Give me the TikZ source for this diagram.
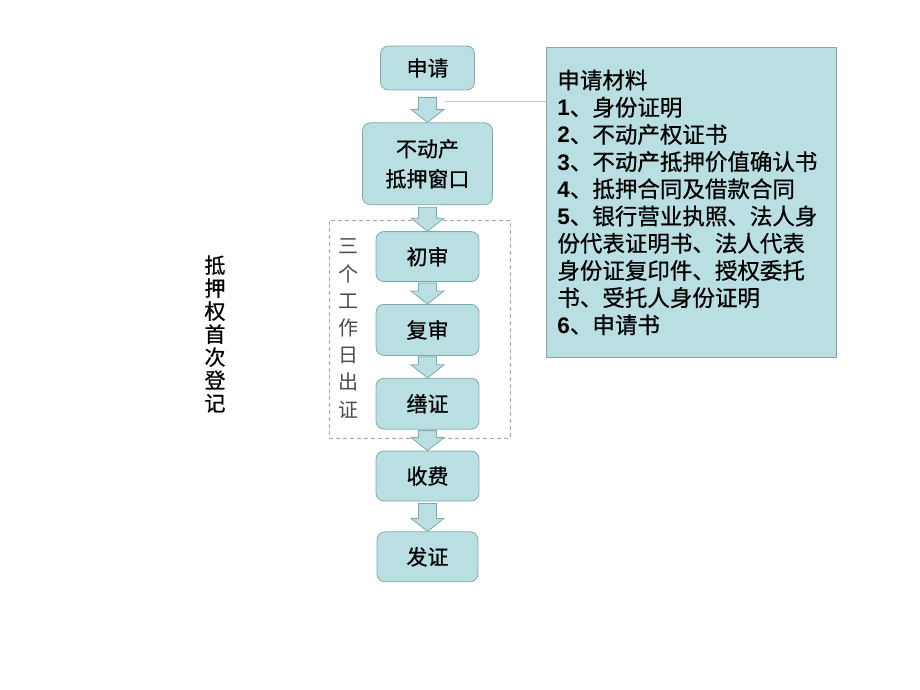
\documentclass[tikz,border=0pt]{standalone}
\usepackage{fontspec}
\usetikzlibrary{positioning,calc}
\newfontfamily\cjk{Noto Sans CJK SC}
\newfontfamily\cjkb[FakeBold=0.7]{Noto Sans CJK SC}
\newfontfamily\numfont{Liberation Sans}
\definecolor{boxfill}{HTML}{B9DFE2}
\definecolor{boxline}{HTML}{7FA9AD}
\definecolor{noteline}{HTML}{8FA3A5}
\definecolor{dayline}{HTML}{A6A6A6}
\definecolor{callline}{HTML}{9ED4D9}
\newcommand{\itemno}[1]{{\numfont\bfseries #1}}
\newcommand{\flowarrow}[3][2pt]{%
  \path[arrowbox] let \p1=($(#2.south)+(0pt,-#1)$), \p2=(#3.north) in
    (\x1-9pt,\y1) -- (\x1+9pt,\y1) -- (\x1+9pt,\y2+13pt) -- (\x1+16.5pt,\y2+13pt)
    -- (\x1,\y2) -- (\x1-16.5pt,\y2+13pt) -- (\x1-9pt,\y2+13pt) -- cycle;
}

\begin{document}
\begin{tikzpicture}[
      x=1pt,y=-1pt,
      every node/.style={inner sep=2pt,font=\cjkb\fontsize{21pt}{30pt}\selectfont},
      stepbox/.style={draw=boxline,fill=boxfill,rounded corners=8pt,line width=0.8pt,
        minimum width=103pt,minimum height=50pt,align=center},
      arrowbox/.style={draw=boxline,fill=boxfill,line width=0.8pt},
      notebox/.style={draw=noteline,fill=boxfill,line width=0.8pt,align=left,
        inner xsep=11pt,font=\cjkb\fontsize{22.5pt}{27.2pt}\selectfont},
      daybox/.style={draw=dayline,dashed,dash pattern=on 4pt off 3pt,line width=0.8pt},
      sidetext/.style={align=center,text width=24pt}
    ]
      \useasboundingbox (0,0) rectangle (920,690);
      \node[daybox,minimum width=181pt,minimum height=218pt] (days) at (419.5,329) {};
      \node[stepbox,minimum width=94pt,minimum height=44pt] (apply) at (427.5,68) {申请};
      \node[stepbox,minimum width=130pt,minimum height=82pt,below=32pt of apply] (window) {不动产\\抵押窗口};
      \node[stepbox,below=26pt of window] (first) {初审};
      \node[stepbox,minimum height=51pt,below=22pt of first] (second) {复审};
      \node[stepbox,minimum height=51pt,below=22pt of second] (record) {缮证};
      \node[stepbox,below=21pt of record] (fee) {收费};
      \node[stepbox,minimum width=101pt,below=30pt of fee] (issue) {发证};
      \node[sidetext,text=black!70,font=\cjk\fontsize{20pt}{27.2pt}\selectfont] (daysnote) at (348,328.5)
        {三\\个\\工\\作\\日\\出\\证};
      \node[sidetext,font=\cjkb\fontsize{21pt}{23pt}\selectfont] (title) at (215,334)
        {抵\\押\\权\\首\\次\\登\\记};
      \node[notebox,anchor=north west,minimum width=290pt,minimum height=310pt,text width=268pt] (materials) at (546,47)
        {申请材料\\
         \itemno{1}、身份证明\\
         \itemno{2}、不动产权证书\\
         \itemno{3}、不动产抵押价值确认书\\
         \itemno{4}、抵押合同及借款合同\\
         \itemno{5}、银行营业执照、法人身\\
         份代表证明书、法人代表\\
         身份证复印件、授权委托\\
         书、受托人身份证明\\
         \itemno{6}、申请书};
      \flowarrow[7pt]{apply}{window}
      \flowarrow{window}{first}
      \flowarrow[1pt]{first}{second}
      \flowarrow[1pt]{second}{record}
      \flowarrow[1pt]{record}{fee}
      \flowarrow[2pt]{fee}{issue}
      \coordinate (callout) at (445,101);
      \draw[callline,line width=0.7pt] (callout) -- (callout -| materials.west);
    \end{tikzpicture}
\end{document}
